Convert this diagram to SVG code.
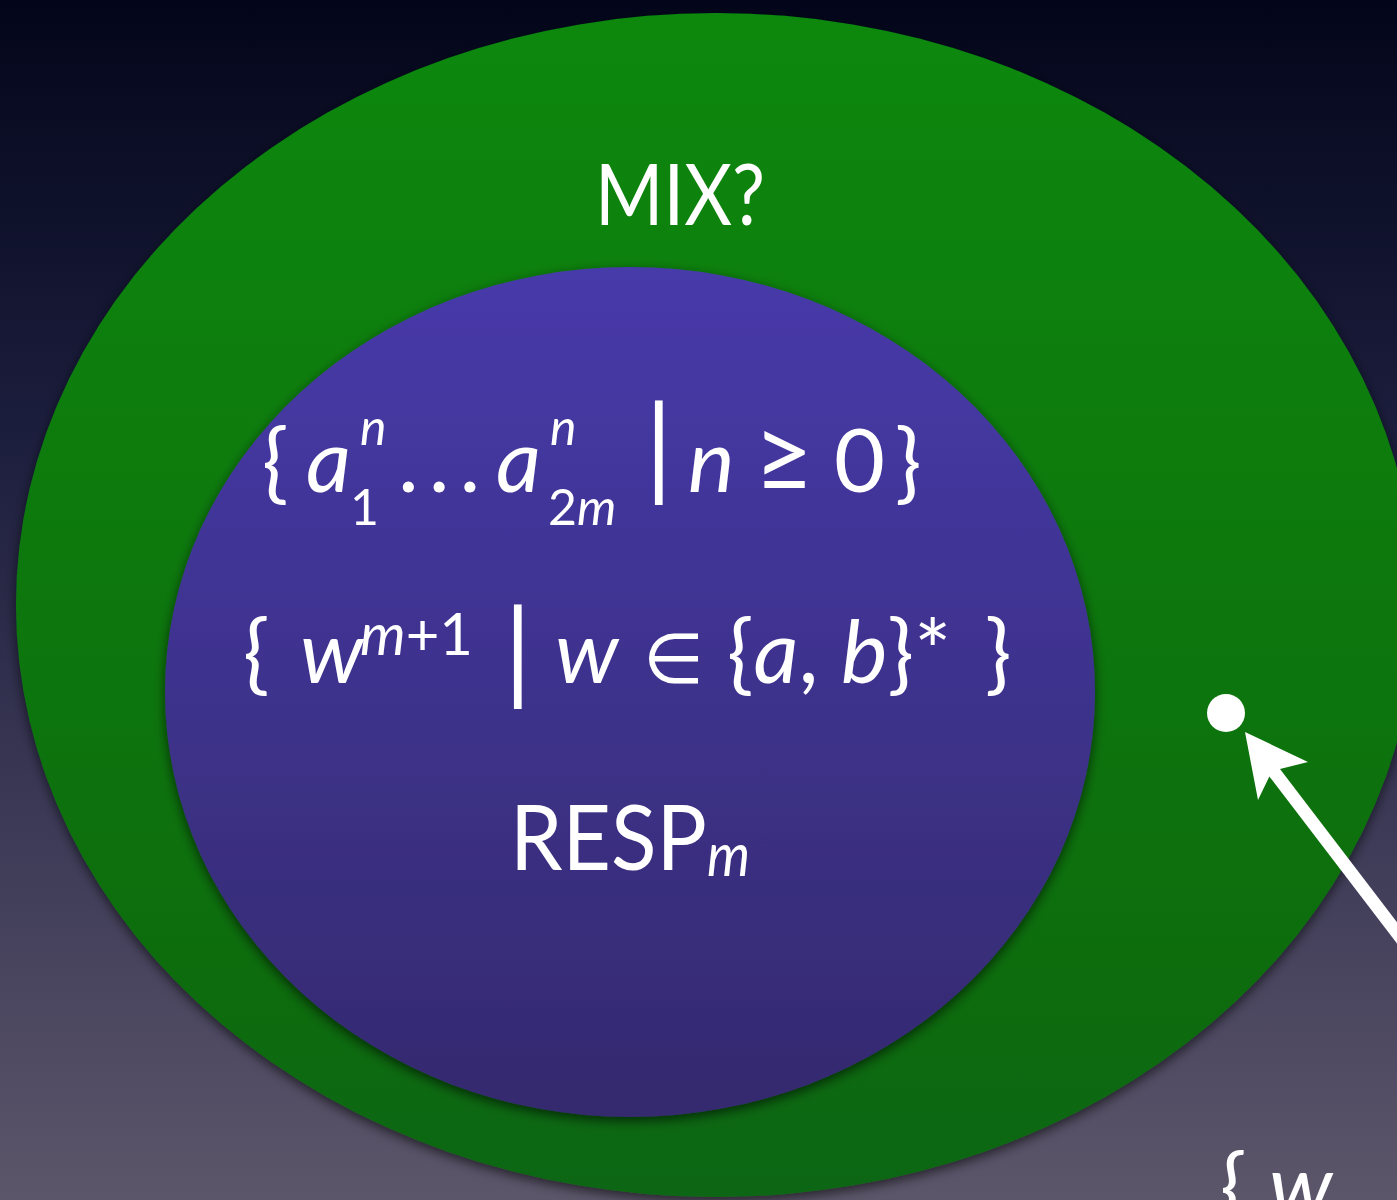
<svg xmlns="http://www.w3.org/2000/svg" width="1397" height="1200" viewBox="0 0 1397 1200">
<defs>
<linearGradient id="bg" x1="0" y1="0" x2="0" y2="1">
<stop offset="0" stop-color="#03061a"/>
<stop offset="0.35" stop-color="#1b1d3c"/>
<stop offset="0.7" stop-color="#3e3b58"/>
<stop offset="1" stop-color="#5c566a"/>
</linearGradient>
<linearGradient id="gr" x1="0" y1="0" x2="0" y2="1">
<stop offset="0" stop-color="#08880c"/>
<stop offset="1" stop-color="#0f6612"/>
</linearGradient>
<linearGradient id="bl" x1="0" y1="0" x2="0" y2="1">
<stop offset="0" stop-color="#473aaa"/>
<stop offset="1" stop-color="#342a6e"/>
</linearGradient>
<filter id="sh" x="-10%" y="-10%" width="120%" height="120%">
<feDropShadow dx="0" dy="4" stdDeviation="6" flood-color="#000" flood-opacity="0.6"/>
</filter>
<style>
text{font-family:Lato,"DejaVu Sans",sans-serif;fill:#fff;}
.it{font-style:italic;}
.m{font-size:88px;}
.s{font-size:50px;}
</style>
</defs>
<rect width="1397" height="1200" fill="url(#bg)"/>
<g id="mix">
<ellipse cx="716" cy="605" rx="700" ry="592" fill="url(#gr)" filter="url(#sh)"/>
<text x="595" y="225" font-size="86" textLength="170" lengthAdjust="spacingAndGlyphs">MIX?</text>
</g>
<g id="resp">
<ellipse cx="630" cy="692" rx="465" ry="425" fill="url(#bl)" filter="url(#sh)"/>
<g id="line1">
<text class="m" x="262" y="492">{</text>
<text class="m it" x="306" y="492">a</text>
<text class="s it" x="360" y="445">n</text>
<text class="s" x="350" y="525">1</text>
<text class="m" x="398" y="492" letter-spacing="10">...</text>
<text class="m it" x="496" y="492">a</text>
<text class="s it" x="550" y="445">n</text>
<text class="s" x="548" y="525">2<tspan class="it">m</tspan></text>
<text x="645" y="486" font-size="110">|</text>
<text class="m it" x="688" y="492">n</text>
<text x="754" y="492" font-size="104">≥</text>
<text class="m" x="834" y="492">0</text>
<text class="m" x="895" y="492">}</text>
</g>
<g id="line2">
<text class="m" x="243" y="683">{</text>
<text class="m it" x="300" y="683">w</text>
<text x="360" y="655" font-size="58"><tspan class="it">m</tspan>+1</text>
<text x="504" y="690" font-size="110">|</text>
<text class="m it" x="555" y="683">w</text>
<text x="643" y="683" font-size="70">∈</text>
<text class="m" x="727" y="683">{<tspan class="it">a</tspan>, <tspan class="it">b</tspan>}*</text>
<text class="m" x="985" y="683">}</text>
</g>
<text x="510" y="870" font-size="92" textLength="240" lengthAdjust="spacingAndGlyphs">RESP<tspan class="it" font-size="60" dy="6">m</tspan></text>
</g>
<g id="point">
<circle cx="1226" cy="713" r="19" fill="#fff"/>
</g>
<g id="connectors">
<line x1="1420" y1="963" x2="1268" y2="764" stroke="#fff" stroke-width="13"/>
<polygon points="1245,732 1308,762 1272,771 1258,800" fill="#fff"/>
</g>
<g id="label">
<text class="m" x="1220" y="1217">{ <tspan class="it">w</tspan></text>
</g>
</svg>
